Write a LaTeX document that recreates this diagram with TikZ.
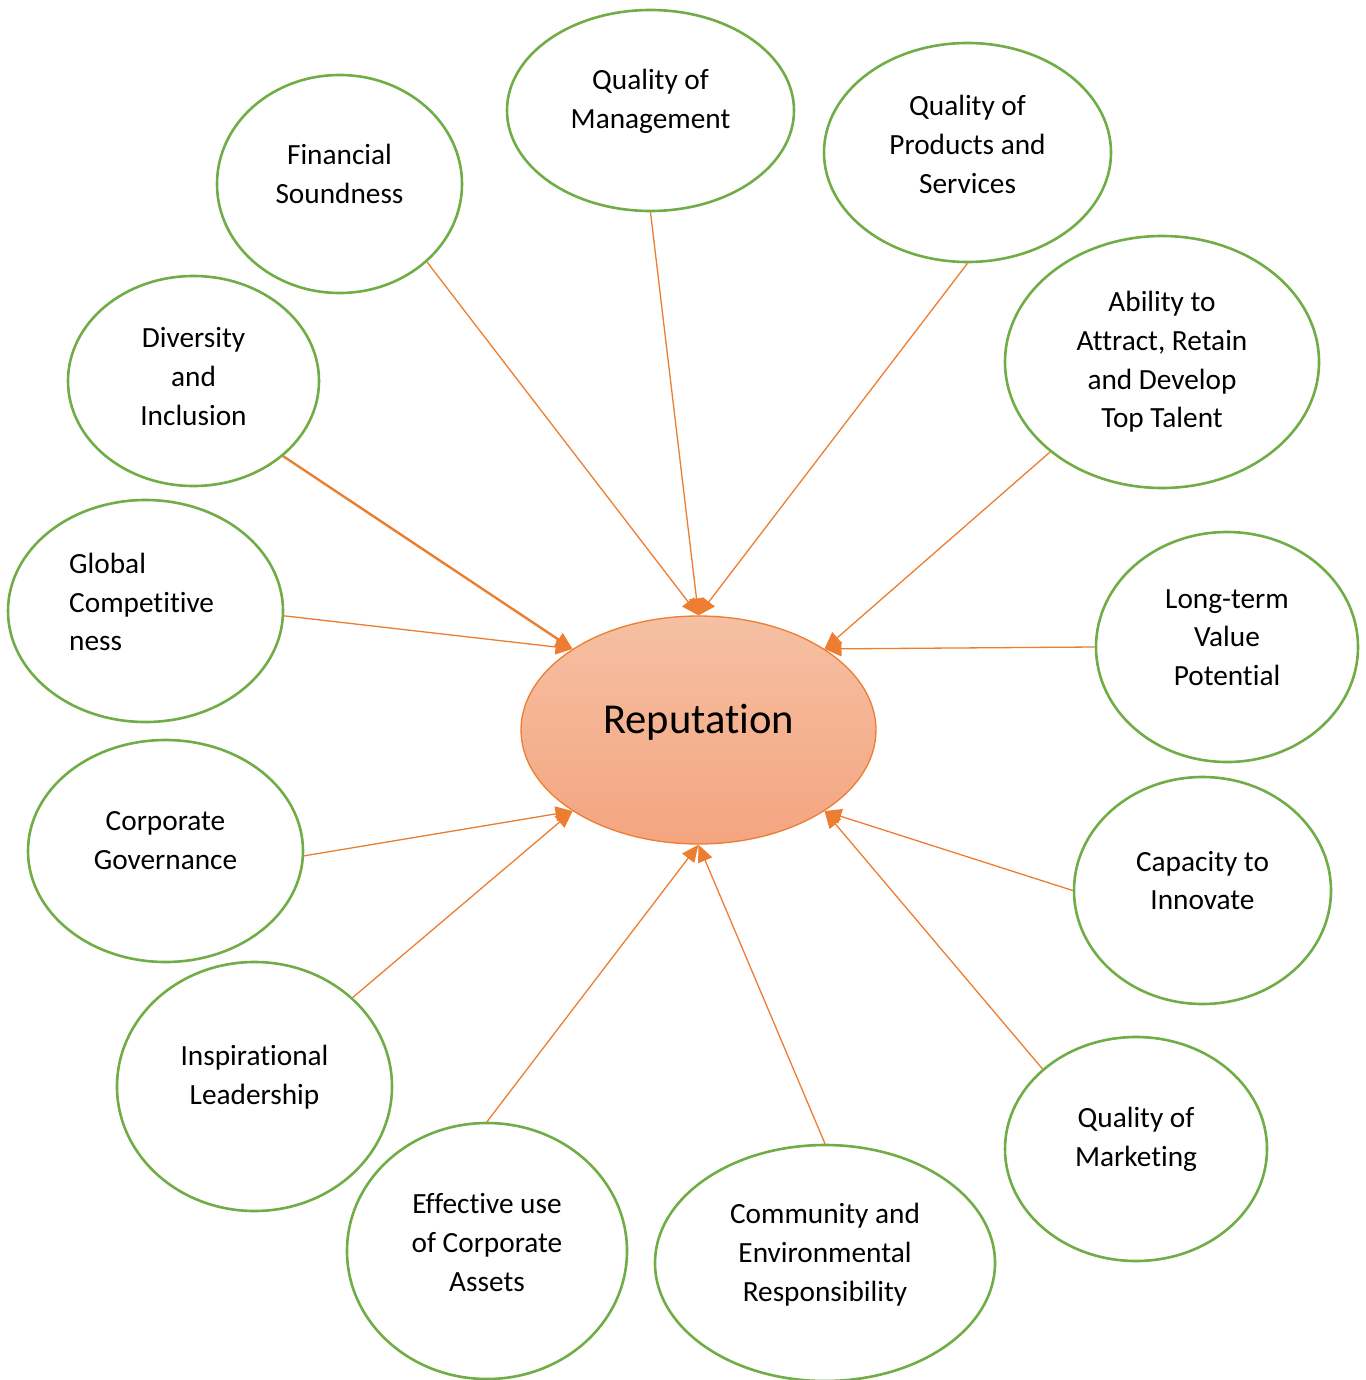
\documentclass[tikz,border=0pt]{standalone}
\usepackage{fontspec}
\setmainfont{Carlito}[Ligatures=NoCommon]
\usetikzlibrary{shapes.geometric,arrows.meta,calc}
\definecolor{leaf}{HTML}{70AD47}
\definecolor{ember}{HTML}{ED7D31}
\definecolor{peachtop}{RGB}{245,192,163}
\definecolor{peachbot}{RGB}{244,165,128}
\begin{document}
\begin{tikzpicture}[x=1pt,y=-1pt,
  bubble/.style={ellipse, draw=leaf, line width=2.6pt, inner sep=0pt},
  bubbletext/.style={align=center, inner sep=0pt, font=\fontsize{29.3}{38.7}\selectfont},
  link/.style={draw=ember, line width=1.3pt, -{Triangle[length=17pt,width=15pt]}},
]
\useasboundingbox (0,0) rectangle (1365,1380);
\clip (0,0) rectangle (1365,1380);

% central ellipse
\node[ellipse, draw=ember, line width=1.3pt, top color=peachtop, bottom color=peachbot,
      minimum width=355pt, minimum height=228pt, inner sep=0pt] (rep) at (698.5,730) {};
\node[inner sep=0pt, font=\fontsize{42.6}{50}\selectfont] (reptext) at (698.5,722) {Reputation};

% surrounding factors
\node[bubble, minimum width=245pt, minimum height=218pt] (fin)    at (339.5,184)  {};
\node[bubble, minimum width=287pt, minimum height=201pt] (mgmt)   at (650.5,110.5){};
\node[bubble, minimum width=287pt, minimum height=219pt] (prod)   at (967.5,152.5){};
\node[bubble, minimum width=314pt, minimum height=252pt] (talent) at (1162,362)   {};
\node[bubble, minimum width=262pt, minimum height=230pt] (value)  at (1227,647)   {};
\node[bubble, minimum width=257pt, minimum height=227pt] (innov)  at (1202.5,890.5){};
\node[bubble, minimum width=262pt, minimum height=224pt] (mkt)    at (1136,1149)  {};
\node[bubble, minimum width=340pt, minimum height=236pt] (comm)   at (825,1263)   {};
\node[bubble, minimum width=280pt, minimum height=256pt] (assets) at (487,1251)   {};
\node[bubble, minimum width=275pt, minimum height=249pt] (lead)   at (254.5,1086.5){};
\node[bubble, minimum width=275pt, minimum height=222pt] (gov)    at (165.5,851)  {};
\node[bubble, minimum width=275pt, minimum height=222pt] (glob)   at (145.5,611)  {};
\node[bubble, minimum width=251pt, minimum height=210pt] (div)    at (193.5,381)  {};

% factor labels
\node[bubbletext] (fint)    at (339.5,174)   {Financial\\Soundness};
\node[bubbletext] (mgmtt)   at (650.5,101)   {Quality of\\Management};
\node[bubbletext] (prodt)   at (967.5,144.5) {Quality of\\Products and\\Services};
\node[bubbletext] (talentt) at (1162,362)    {Ability to\\Attract, Retain\\and Develop\\Top Talent};
\node[bubbletext] (valuet)  at (1227,637.5)  {Long-term\\Value\\Potential};
\node[bubbletext] (innovt)  at (1202.5,880.5){Capacity to\\Innovate};
\node[bubbletext] (mktt)    at (1136,1139.5) {Quality of\\Marketing};
\node[bubbletext] (commt)   at (825,1254.5)  {Community and\\Environmental\\Responsibility};
\node[bubbletext] (assetst) at (487,1242.5)  {Effective use\\of Corporate\\Assets};
\node[bubbletext] (leadt)   at (254.5,1077.5){Inspirational\\Leadership};
\node[bubbletext] (govt)    at (165.5,840.5) {Corporate\\Governance};
\node[bubbletext, align=left, anchor=west] (globt) at (69,602) {Global\\Competitive\\ness};
\node[bubbletext] (divt)    at (193.5,376.5) {Diversity\\and\\Inclusion};

% connectors into the centre
\draw[link] (fin.south east)    -- (rep.north);
\draw[link] (mgmt.south)        -- (rep.north);
\draw[link] (prod.south)        -- (rep.north);
\draw[link] (talent.south west) -- (rep.north east);
\draw[link] (value.west)        -- (rep.north east);
\draw[link] (innov.west)        -- (rep.south east);
\draw[link] (mkt.north west)    -- (rep.south east);
\draw[link] (comm.north)        -- (rep.south);
\draw[link] (assets.north)      -- (rep.south);
\draw[link] (lead.north east)   -- (rep.south west);
\draw[link] (gov.-2)            -- (rep.south west);
\draw[link] (glob.-2)           -- (rep.north west);
\draw[link, line width=2.4pt]   (div.south east) -- (rep.north west);
\end{tikzpicture}
\end{document}
